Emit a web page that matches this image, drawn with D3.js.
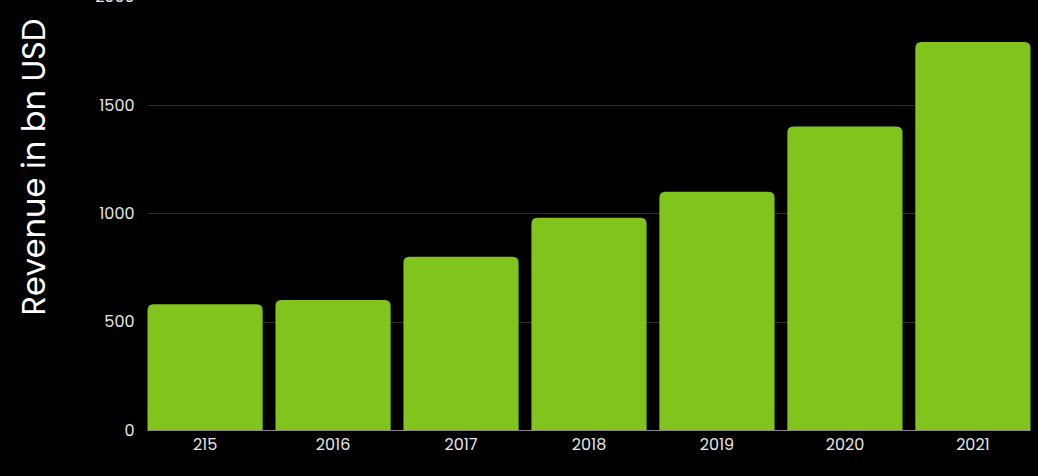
<!DOCTYPE html>
<html>
<head>
<meta charset="utf-8">
<script src="https://cdn.jsdelivr.net/npm/d3@7/dist/d3.min.js"></script>
<style>
  html, body { margin: 0; padding: 0; background: #000; }
  svg { display: block; font-family: Poppins, Inter, "Noto Sans", sans-serif; }
</style>
</head>
<body>
<svg id="chart" width="1038" height="476"></svg>
<script>
// Yearly revenue figures
const years = ["215", "2016", "2017", "2018", "2019", "2020", "2021"];
const revenue = [580, 600, 800, 980, 1100, 1400, 1790];
const yTicks = [0, 500, 1000, 1500, 2000];
const yTitle = "Revenue in bn USD";

const svg = d3.select("#chart");
const plot = { left: 147.5, right: 1030.5, top: -3.4, bottom: 430 };
const font = "Poppins, Inter, 'Noto Sans', sans-serif";

const x = d3.scaleBand()
  .domain(years)
  .range([plot.left, plot.right])
  .paddingInner(0.1)
  .paddingOuter(0);

const y = d3.scaleLinear()
  .domain([0, 2000])
  .range([plot.bottom, plot.top]);

// Horizontal gridlines
svg.append("g")
  .selectAll("line")
  .data(yTicks.filter(d => d > 0))
  .join("line")
  .attr("x1", plot.left)
  .attr("x2", plot.right)
  .attr("y1", d => Math.round(y(d)) + 0.5)
  .attr("y2", d => Math.round(y(d)) + 0.5)
  .attr("stroke", "#2e2e2e")
  .attr("stroke-width", 1);

// Bars with rounded top corners
const r = 6;
function barPath(d, i) {
  const x0 = x(years[i]);
  const w = x.bandwidth();
  const yt = y(d);
  const yb = y(0);
  return `M${x0},${yb}V${yt + r}Q${x0},${yt} ${x0 + r},${yt}H${x0 + w - r}Q${x0 + w},${yt} ${x0 + w},${yt + r}V${yb}Z`;
}
svg.append("g")
  .selectAll("path")
  .data(revenue)
  .join("path")
  .attr("d", barPath)
  .attr("fill", "#82c41e");

// Baseline
svg.append("line")
  .attr("x1", plot.left)
  .attr("x2", plot.right)
  .attr("y1", plot.bottom + 0.5)
  .attr("y2", plot.bottom + 0.5)
  .attr("stroke", "#8a8a8a")
  .attr("stroke-width", 1);

// X axis labels
const xAxis = svg.append("g")
  .attr("transform", `translate(0,${plot.bottom})`)
  .call(d3.axisBottom(x).tickSize(0).tickPadding(9));
xAxis.select(".domain").remove();
xAxis.selectAll("text")
  .attr("fill", "#e6e6e6")
  .attr("font-size", 16)
  .attr("font-family", font);

// Y axis labels
const yAxis = svg.append("g")
  .attr("transform", `translate(${plot.left},0)`)
  .call(d3.axisLeft(y).tickValues(yTicks).tickSize(0).tickPadding(13).tickFormat(d3.format("d")));
yAxis.select(".domain").remove();
yAxis.selectAll("text")
  .attr("fill", "#e6e6e6")
  .attr("font-size", 16)
  .attr("font-family", font);

// Y axis title
svg.append("text")
  .attr("transform", "translate(45,167) rotate(-90)")
  .attr("text-anchor", "middle")
  .attr("fill", "#ffffff")
  .attr("font-size", 32)
  .attr("font-family", font)
  .text(yTitle);
</script>
</body>
</html>
